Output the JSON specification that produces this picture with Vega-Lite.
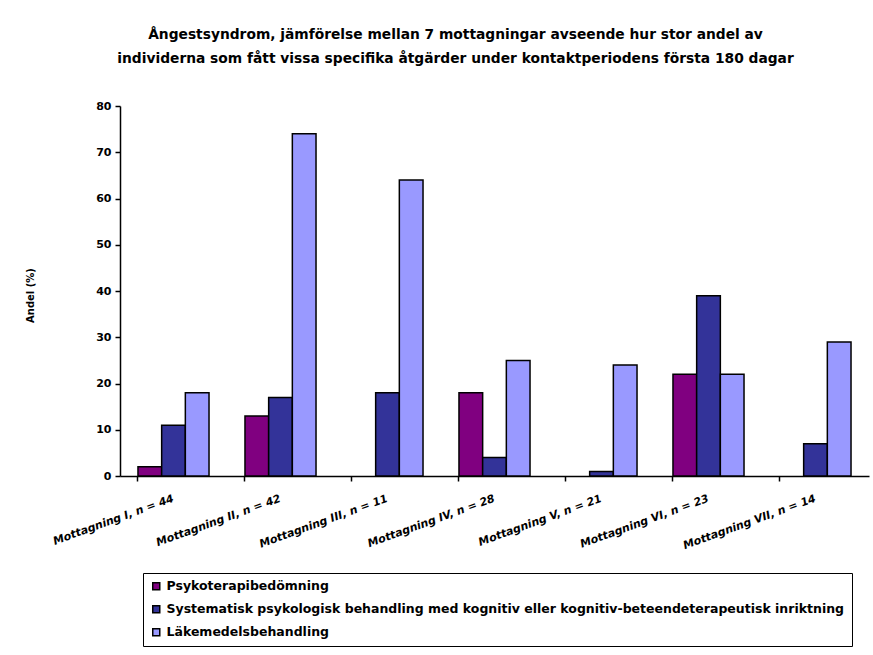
{
  "$schema": "https://vega.github.io/schema/vega-lite/v6.json",
  "autosize": "none",
  "width": 749,
  "height": 370,
  "padding": {"left": 120, "top": 106, "right": 4, "bottom": 179},
  "background": "white",
  "title": {
    "text": ["Ångestsyndrom, jämförelse mellan 7 mottagningar avseende hur stor andel av", "individerna som fått vissa specifika åtgärder under kontaktperiodens första 180 dagar"],
    "font": "DejaVu Sans",
    "fontSize": 13.8,
    "fontWeight": "bold",
    "color": "black",
    "anchor": "middle",
    "dx": -39,
    "offset": 34,
    "lineHeight": 24
  },
  "data": {
    "values": [
      {"m": "Mottagning I, n = 44", "a": "Psykoterapibedömning", "v": 2},
      {"m": "Mottagning I, n = 44", "a": "Systematisk psykologisk behandling med kognitiv eller kognitiv-beteendeterapeutisk inriktning", "v": 11},
      {"m": "Mottagning I, n = 44", "a": "Läkemedelsbehandling", "v": 18},
      {"m": "Mottagning II, n = 42", "a": "Psykoterapibedömning", "v": 13},
      {"m": "Mottagning II, n = 42", "a": "Systematisk psykologisk behandling med kognitiv eller kognitiv-beteendeterapeutisk inriktning", "v": 17},
      {"m": "Mottagning II, n = 42", "a": "Läkemedelsbehandling", "v": 74},
      {"m": "Mottagning III, n = 11", "a": "Psykoterapibedömning", "v": 0},
      {"m": "Mottagning III, n = 11", "a": "Systematisk psykologisk behandling med kognitiv eller kognitiv-beteendeterapeutisk inriktning", "v": 18},
      {"m": "Mottagning III, n = 11", "a": "Läkemedelsbehandling", "v": 64},
      {"m": "Mottagning IV, n = 28", "a": "Psykoterapibedömning", "v": 18},
      {"m": "Mottagning IV, n = 28", "a": "Systematisk psykologisk behandling med kognitiv eller kognitiv-beteendeterapeutisk inriktning", "v": 4},
      {"m": "Mottagning IV, n = 28", "a": "Läkemedelsbehandling", "v": 25},
      {"m": "Mottagning V, n = 21", "a": "Psykoterapibedömning", "v": 0},
      {"m": "Mottagning V, n = 21", "a": "Systematisk psykologisk behandling med kognitiv eller kognitiv-beteendeterapeutisk inriktning", "v": 1},
      {"m": "Mottagning V, n = 21", "a": "Läkemedelsbehandling", "v": 24},
      {"m": "Mottagning VI, n = 23", "a": "Psykoterapibedömning", "v": 22},
      {"m": "Mottagning VI, n = 23", "a": "Systematisk psykologisk behandling med kognitiv eller kognitiv-beteendeterapeutisk inriktning", "v": 39},
      {"m": "Mottagning VI, n = 23", "a": "Läkemedelsbehandling", "v": 22},
      {"m": "Mottagning VII, n = 14", "a": "Psykoterapibedömning", "v": 0},
      {"m": "Mottagning VII, n = 14", "a": "Systematisk psykologisk behandling med kognitiv eller kognitiv-beteendeterapeutisk inriktning", "v": 7},
      {"m": "Mottagning VII, n = 14", "a": "Läkemedelsbehandling", "v": 29}
    ]
  },
  "mark": {"type": "bar", "stroke": "black", "strokeWidth": 1.5},
  "encoding": {
    "x": {
      "field": "m",
      "type": "nominal",
      "sort": null,
      "scale": {"paddingInner": 0.336, "paddingOuter": 0.168},
      "axis": {
        "title": null,
        "labelAngle": -20,
        "labelAlign": "right",
        "labelBaseline": "middle",
        "labelPadding": 17,
        "labelFont": "DejaVu Sans",
        "labelFontSize": 11,
        "labelFontWeight": "bold",
        "labelFontStyle": "italic",
        "labelColor": "black",
        "bandPosition": 0,
        "tickColor": "black",
        "tickSize": 5,
        "domainColor": "black",
        "domainWidth": 1.5,
        "tickWidth": 1.5
      }
    },
    "xOffset": {
      "field": "a",
      "type": "nominal",
      "sort": ["Psykoterapibedömning", "Systematisk psykologisk behandling med kognitiv eller kognitiv-beteendeterapeutisk inriktning", "Läkemedelsbehandling"],
      "scale": {"paddingInner": 0, "paddingOuter": 0}
    },
    "y": {
      "field": "v",
      "type": "quantitative",
      "scale": {"domain": [0, 80], "nice": false},
      "axis": {
        "title": "Andel (%)",
        "titleFont": "DejaVu Sans",
        "titleFontSize": 10,
        "titleFontWeight": "bold",
        "titleColor": "black",
        "titleX": -90,
        "titleY": 189,
        "titleAngle": -90,
        "titleAlign": "center",
        "titleBaseline": "middle",
        "values": [0, 10, 20, 30, 40, 50, 60, 70, 80],
        "grid": false,
        "labelFont": "DejaVu Sans",
        "labelFontSize": 11,
        "labelFontWeight": "bold",
        "labelColor": "black",
        "labelPadding": 4,
        "tickColor": "black",
        "tickSize": 5,
        "tickWidth": 1.5,
        "domainColor": "black",
        "domainWidth": 1.5
      }
    },
    "strokeOpacity": {
      "condition": {"test": "datum.v === 0", "value": 0},
      "value": 1
    },
    "color": {
      "field": "a",
      "type": "nominal",
      "sort": ["Psykoterapibedömning", "Systematisk psykologisk behandling med kognitiv eller kognitiv-beteendeterapeutisk inriktning", "Läkemedelsbehandling"],
      "scale": {"range": ["#800080", "#333399", "#9999FF"]},
      "legend": {
        "title": null,
        "orient": "none",
        "legendX": 23,
        "legendY": 467,
        "symbolType": "square",
        "symbolSize": 49,
        "symbolStrokeColor": "black",
        "symbolStrokeWidth": 1.5,
        "labelFont": "DejaVu Sans",
        "labelFontSize": 12.5,
        "labelFontWeight": "bold",
        "labelColor": "black",
        "labelLimit": 800,
        "rowPadding": 9,
        "strokeColor": "black",
        "padding": 7,
        "fillColor": "white"
      }
    }
  },
  "config": {"view": {"stroke": null}}
}
